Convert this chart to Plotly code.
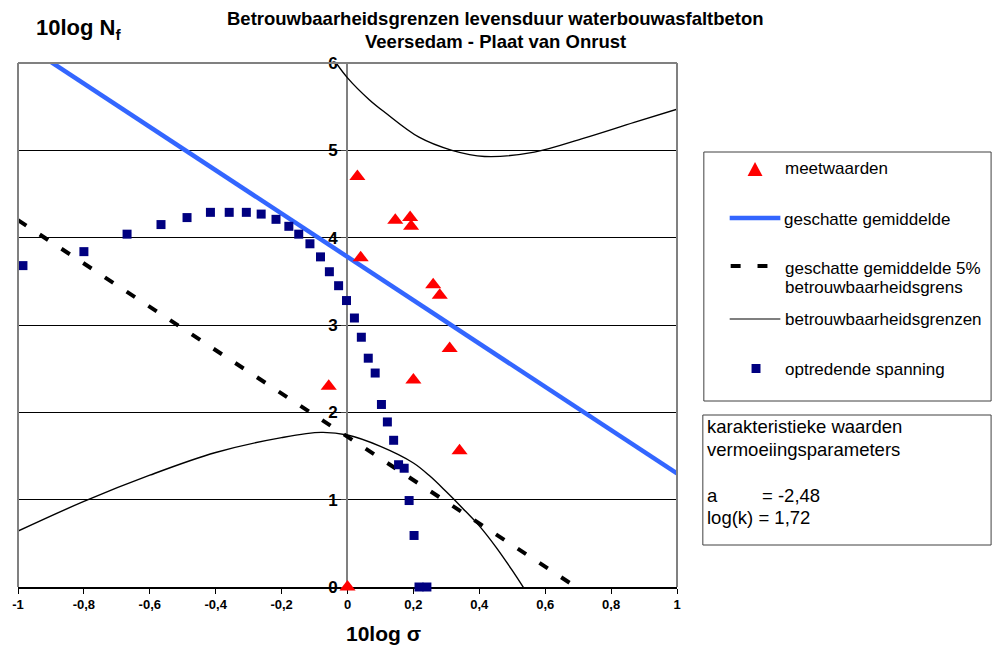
import plotly.graph_objects as go

# ---------------- data ----------------
meet_x = [0.03, 0.04, 0.145, 0.19, 0.193, 0.26, 0.28, 0.31, 0.34, 0.20, -0.057, 0.0]
meet_y = [4.70, 3.77, 4.20, 4.23, 4.13, 3.46, 3.34, 2.73, 1.56, 2.37, 2.30, 0.0]

gem_x = [-1.0, 1.0]
gem_y = [6.26, 1.30]

gem5_x = [-1.0, 0.75]
gem5_y = [4.20, -0.14]

upper_x = [-0.04, 0.0, 0.066, 0.115, 0.217, 0.317, 0.416, 0.567, 0.718, 0.87, 1.0]
upper_y = [6.03, 5.83, 5.58, 5.43, 5.15, 5.00, 4.93, 4.98, 5.14, 5.32, 5.47]

lower_x = [-1.0, -0.8, -0.6, -0.4, -0.2, -0.08, 0.0, 0.1, 0.2, 0.25, 0.3, 0.35, 0.4, 0.45, 0.5, 0.55]
lower_y = [0.64, 0.98, 1.28, 1.54, 1.71, 1.77, 1.74, 1.61, 1.42, 1.27, 1.09, 0.90, 0.70, 0.46, 0.19, -0.10]

span_x = [-0.985, -0.80, -0.669, -0.566, -0.487, -0.416, -0.359, -0.307, -0.262, -0.217,
          -0.178, -0.148, -0.114, -0.082, -0.055, -0.027, -0.003, 0.021, 0.042, 0.063,
          0.084, 0.103, 0.121, 0.14, 0.155, 0.172, 0.187, 0.202, 0.217, 0.241]
span_y = [3.68, 3.84, 4.04, 4.15, 4.23, 4.29, 4.29, 4.29, 4.27, 4.21,
          4.13, 4.04, 3.93, 3.78, 3.61, 3.45, 3.28, 3.08, 2.86, 2.62,
          2.45, 2.09, 1.89, 1.68, 1.40, 1.36, 0.99, 0.59, 0.0, 0.0]

x_tickvals = [-1, -0.8, -0.6, -0.4, -0.2, 0, 0.2, 0.4, 0.6, 0.8, 1]
x_ticktext = ["-1", "-0,8", "-0,6", "-0,4", "-0,2", "0", "0,2", "0,4", "0,6", "0,8", "1"]
y_tickvals = [0, 1, 2, 3, 4, 5, 6]
y_ticktext = ["0", "1", "2", "3", "4", "5", "6"]

FONT = "Arial, Liberation Sans, sans-serif"
RED = "#FF0000"
NAVY = "#000080"
BLUE = "#3366FF"

# ---------------- geometry helpers (pixel -> paper) ----------------
L, R, T, B = 14, 677, 63, 587
W, H = R - L, B - T


def px(x):
    return (x - L) / W


def py(y):
    return (B - y) / H


fig = go.Figure()

fig.add_trace(go.Scatter(x=lower_x, y=lower_y, mode="lines", line=dict(color="black", width=1.4, shape="spline"),
                         showlegend=False, hoverinfo="skip"))
fig.add_trace(go.Scatter(x=upper_x, y=upper_y, mode="lines", line=dict(color="black", width=1.4, shape="spline"),
                         showlegend=False, hoverinfo="skip"))
fig.add_trace(go.Scatter(x=gem5_x, y=gem5_y, mode="lines", line=dict(color="black", width=4, dash="10px,16px"),
                         showlegend=False))
fig.add_trace(go.Scatter(x=gem_x, y=gem_y, mode="lines", line=dict(color=BLUE, width=4.5),
                         showlegend=False))
fig.add_trace(go.Scatter(x=span_x, y=span_y, mode="markers", cliponaxis=False,
                         marker=dict(symbol="square", size=9, color=NAVY), showlegend=False))
fig.add_trace(go.Scatter(x=meet_x, y=meet_y, mode="markers", cliponaxis=False,
                         marker=dict(symbol="triangle-up", size=14, color=RED), showlegend=False))

shapes = []
# plot frame (gray) top / left / right
for (x0, y0, x1, y1) in [(0, 1, 1, 1), (0, 0, 0, 1), (1, 0, 1, 1)]:
    shapes.append(dict(type="line", xref="paper", yref="paper", x0=x0, y0=y0, x1=x1, y1=y1,
                       line=dict(color="#808080", width=2), layer="above"))

# legend box
shapes.append(dict(type="rect", xref="paper", yref="paper", x0=px(704), x1=px(993), y0=py(401), y1=py(152),
                   line=dict(color="#404040", width=1), fillcolor="white", layer="above"))
# parameter box
shapes.append(dict(type="rect", xref="paper", yref="paper", x0=px(703), x1=px(993), y0=py(545), y1=py(415),
                   line=dict(color="#404040", width=1), fillcolor="white", layer="above"))
# legend symbols: blue line
shapes.append(dict(type="line", xref="paper", yref="paper", x0=px(730), x1=px(781), y0=py(218), y1=py(218),
                   line=dict(color=BLUE, width=4.5), layer="above"))
# dashes
for (a, b) in [(731, 741), (758, 768)]:
    shapes.append(dict(type="line", xref="paper", yref="paper", x0=px(a), x1=px(b), y0=py(266), y1=py(266),
                       line=dict(color="black", width=4), layer="above"))
# thin black line
shapes.append(dict(type="line", xref="paper", yref="paper", x0=px(730), x1=px(781), y0=py(319), y1=py(319),
                   line=dict(color="black", width=1.2), layer="above"))
# navy square
shapes.append(dict(type="rect", xref="paper", yref="paper", x0=px(752), x1=px(761), y0=py(373), y1=py(364),
                   line=dict(width=0), fillcolor=NAVY, layer="above"))
# red triangle
shapes.append(dict(type="path", xref="paper", yref="paper",
                   path="M %f,%f L %f,%f L %f,%f Z" % (px(748), py(176), px(763), py(176), px(755.5), py(162)),
                   line=dict(width=0), fillcolor=RED, layer="above"))

ann = []


def txt(text, x, y, size=17, xanchor="left", bold=False):
    if bold:
        text = "<b>" + text + "</b>"
    ann.append(dict(text=text, x=px(x), y=py(y), xref="paper", yref="paper", xanchor=xanchor, yanchor="middle",
                    showarrow=False, font=dict(family=FONT, size=size, color="black")))


# titles
txt("Betrouwbaarheidsgrenzen levensduur waterbouwasfaltbeton", 494, 19, size=18.5, xanchor="center", bold=True)
txt("Veersedam - Plaat van Onrust", 494, 42, size=18.5, xanchor="center", bold=True)
txt("10log N<sub>f</sub>", 30, 29, size=22, bold=True)
txt("10log σ", 382, 633, size=21, xanchor="center", bold=True)

# legend texts
txt("meetwaarden", 784, 169)
txt("geschatte gemiddelde", 783, 219)
txt("geschatte gemiddelde 5%", 784, 268)
txt("betrouwbaarheidsgrens", 784, 287)
txt("betrouwbaarheidsgrenzen", 784, 319)
txt("optredende spanning", 784, 369)

# parameter box texts
txt("karakteristieke waarden", 705, 427, size=18.5)
txt("vermoeiingsparameters", 705, 449, size=18.5)
txt("a", 705, 495, size=18.5)
txt("= -2,48", 761, 495, size=18.5)
txt("log(k) = 1,72", 705, 517, size=18.5)

fig.update_layout(
    width=994, height=648,
    margin=dict(l=L, r=994 - R, t=T, b=648 - B, pad=0),
    paper_bgcolor="white", plot_bgcolor="white",
    showlegend=False,
    font=dict(family=FONT, color="black"),
    shapes=shapes, annotations=ann,
    xaxis=dict(range=[-1, 1], tickvals=x_tickvals, ticktext=x_ticktext, showgrid=False, zeroline=False,
               showline=True, linecolor="black", linewidth=1.5, ticks="outside", ticklen=5, tickcolor="black",
               tickwidth=1, tickfont=dict(family=FONT, size=13, color="black", weight="bold"),
               layer="below traces", fixedrange=True),
    yaxis=dict(range=[0, 6], tickvals=y_tickvals, ticktext=y_ticktext, showgrid=True, gridcolor="black",
               gridwidth=1, zeroline=False, showline=True, linecolor="#808080", linewidth=2,
               anchor="free", position=px(345), ticks="outside", ticklen=5, tickcolor="#404040",
               tickfont=dict(family=FONT, size=17, color="black", weight="bold"),
               layer="below traces", fixedrange=True),
)

fig.write_html("out.html", config={"displayModeBar": False},
               post_script="document.body.style.margin='0';document.body.style.padding='0';")
